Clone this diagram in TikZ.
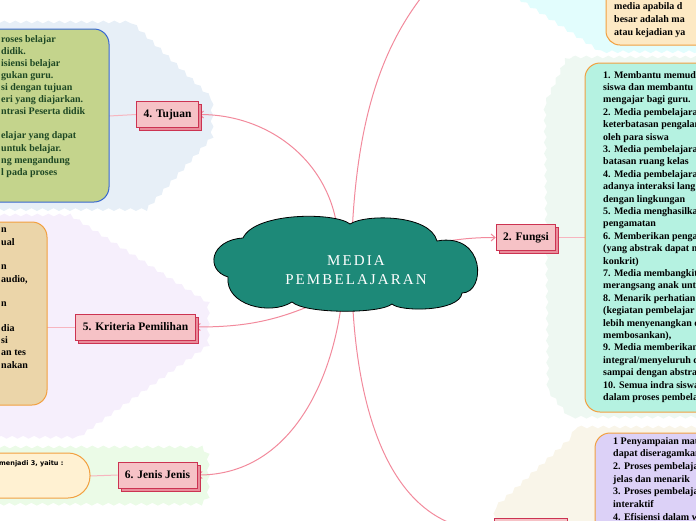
\documentclass[tikz,border=0pt]{standalone}
\usepackage{fontspec}
\setmainfont{Liberation Serif}
\newfontfamily\notefont{DejaVu Sans}
\newfontfamily\titlefont[LetterSpace=14]{Liberation Serif}
\usetikzlibrary{shadows,arrows.meta,decorations.pathmorphing,calc,positioning}

\definecolor{linkpink}{HTML}{F28A9C}
\definecolor{stubpink}{HTML}{F7B5BF}
\definecolor{topicfill}{HTML}{F6C2C6}
\definecolor{topicshade}{HTML}{E98C9A}
\definecolor{topicline}{HTML}{CC3352}
\definecolor{cloudteal}{HTML}{1D8978}
\definecolor{boxorange}{HTML}{F2A040}
\definecolor{goalgreen}{HTML}{C4D48C}
\definecolor{goalblue}{HTML}{3868D0}
\definecolor{goaltext}{HTML}{1E4824}
\definecolor{critfill}{HTML}{EBD5A9}
\definecolor{typefill}{HTML}{FFF1D2}
\definecolor{funcfill}{HTML}{B5F2E1}
\definecolor{defnfill}{HTML}{FDE9C4}
\definecolor{gainfill}{HTML}{DCD1F7}
\definecolor{bgblue}{HTML}{E7EFF7}
\definecolor{bglilac}{HTML}{F6EFFC}
\definecolor{bggreen}{HTML}{EBFBE7}
\definecolor{bgcyan}{HTML}{E2FDFD}
\definecolor{bgmint}{HTML}{EEF8F2}
\definecolor{bgcream}{HTML}{F9F5E9}

\pgfdeclarelayer{back}
\pgfdeclarelayer{links}
\pgfsetlayers{back,links,main}

\tikzset{
  topic/.style={draw=topicline, fill=topicfill, line width=0.8pt,
    font=\bfseries\fontsize{11.5}{13}\selectfont, inner xsep=7pt, minimum height=26pt,
    general shadow={fill=topicshade, draw=topicline, shadow xshift=3pt, shadow yshift=-3pt}},
  branch/.style={draw=linkpink, line width=1pt, -{Straight Barb[length=4pt,width=7pt]}},
  stub/.style={draw=stubpink, line width=1pt},
  blob/.style={decorate, decoration={snake, amplitude=1.4pt, segment length=11pt}},
  notebox/.style={draw=boxorange, line width=1pt, rounded corners=15pt},
  notetext/.style={anchor=north west, align=left, inner sep=0pt},
}

\begin{document}
\begin{tikzpicture}[x=1pt,y=1pt]
  \useasboundingbox (0,0) rectangle (696,-520);
  \clip (0,0) rectangle (696,-520);

  % Sfondi
  \begin{pgfonlayer}{back}
    \fill[bgblue, blob] (-10,-22) -- (128,-22) -- (208,-98) -- (208,-135) -- (140,-210) -- (-10,-210) -- cycle;
    \fill[bglilac, blob] (-10,-215) -- (65,-215) -- (207,-305) -- (207,-350) -- (80,-440) -- (-10,-440) -- cycle;
    \fill[bggreen, blob] (-10,-447) -- (200,-447) -- (207,-455) -- (207,-498) -- (200,-505) -- (-10,-505) -- cycle;
    \fill[bgcyan, blob] (505,10) -- (598,-50) -- (706,-50) -- (706,10) -- cycle;
    \fill[bgmint, blob] (572,-57) -- (706,-57) -- (706,-420) -- (570,-420) -- (550,-395) -- (547,-110) -- cycle;
    \fill[bgcream, blob] (578,-427) -- (706,-427) -- (706,-530) -- (493,-530) -- (493,-505) -- cycle;
  \end{pgfonlayer}

  % Riquadri di testo
  \draw[notebox, draw=goalblue, fill=goalgreen] (-20,-29) rectangle (109,-202);
  \node[notetext, text=goaltext, font=\bfseries\fontsize{10}{12.1}\selectfont] (goaltxt) at (1,-35)
    {roses belajar\\didik.\\isiensi belajar\\gukan guru.\\si dengan tujuan\\eri yang diajarkan.\\ntrasi Peserta didik\\~\\elajar yang dapat\\untuk belajar.\\ng mengandung\\l pada proses};

  \draw[notebox, fill=critfill] (-20,-222) rectangle (47,-405);
  \node[notetext, font=\bfseries\fontsize{10}{12.3}\selectfont] (crittxt) at (1,-228)
    {n\\ual\\~\\n\\audio,\\~\\n\\~\\dia\\si\\an tes\\nakan};

  \draw[notebox, rounded corners=22pt, fill=typefill] (-30,-453) rectangle (90,-498);
  \node[anchor=west, inner sep=0pt, font=\notefont\bfseries\fontsize{6.5}{8}\selectfont] (typetxt) at (-1,-464)
    {menjadi 3, yaitu :};

  \draw[notebox, fill=funcfill] (585,-63) rectangle (720,-412);
  \node[notetext, font=\bfseries\fontsize{10}{12.4}\selectfont] (functxt) at (603,-71)
    {1. Membantu memuda\\siswa dan membantu\\mengajar bagi guru.\\2. Media pembelajara\\keterbatasan pengalam\\oleh para siswa\\3. Media pembelajara\\batasan ruang kelas\\4. Media pembelajara\\adanya interaksi lang\\dengan lingkungan\\5. Media menghasilka\\pengamatan\\6. Memberikan penga\\(yang abstrak dapat m\\konkrit)\\7. Media membangkit\\merangsang anak unt\\8. Menarik perhatian\\(kegiatan pembelajar\\lebih menyenangkan d\\membosankan),\\9. Media memberikan\\integral/menyeluruh d\\sampai dengan abstra\\10. Semua indra siswa\\dalam proses pembela};

  \draw[notebox, rounded corners=14pt, fill=defnfill] (606,20) rectangle (720,-45);
  \node[notetext, font=\bfseries\fontsize{10}{13}\selectfont] (defntxt) at (614,-2)
    {media apabila d\\besar adalah ma\\atau kejadian ya};

  \draw[notebox, fill=gainfill] (595,-433) rectangle (720,-560);
  \node[notetext, font=\bfseries\fontsize{10}{12.7}\selectfont] (gaintxt) at (613,-437)
    {1 Penyampaian mat\\dapat diseragamkan\\2. Proses pembelaja\\jelas dan menarik\\3. Proses pembelaja\\interaktif\\4. Efisiensi dalam w};

  % Nuvola centrale
  \draw[fill=cloudteal, draw=black, line width=0.8pt]
    (228,-277) .. controls (205,-270) and (210,-240) .. (243,-238)
    .. controls (255,-212) and (335,-212) .. (350,-224)
    .. controls (365,-214) and (430,-214) .. (437,-241)
    .. controls (486,-232) and (486,-293) .. (462,-293)
    .. controls (460,-312) and (400,-312) .. (392,-304)
    .. controls (380,-314) and (305,-314) .. (292,-302)
    .. controls (270,-316) and (225,-305) .. (228,-277) -- cycle;
  \node[text=white, align=center, font=\titlefont\fontsize{15}{19}\selectfont] (media) at (356,-270)
    {MEDIA\\PEMBELAJARAN};

  % Rami
  \node[topic] (tujuan) at (167.5,-114.5) {4. Tujuan};
  \node[topic] (kriteria) at (135.5,-327) {5. Kriteria Pemilihan};
  \node[topic] (jenis) at (157.5,-475) {6. Jenis Jenis};
  \node[topic] (fungsi) at (526,-237.5) {2. Fungsi};
  \node[topic, minimum width=73pt] (manfaat) at (530.5,-531) {};
  \coordinate (pengertian) at (440,25);

  \coordinate (goaledge) at (109,-116);
  \coordinate (critedge) at (47,-327);
  \coordinate (typeedge) at (90,-476);
  \coordinate (funcedge) at (585,-237.5);

  % Collegamenti
  \begin{pgfonlayer}{links}
    \draw[branch] ($(media.center)+(-18,35)$) to[out=95, in=0] (tujuan.east);
    \draw[branch] ($(media.center)+(-4,35)$) .. controls (358,-100) and (390,-30) .. (pengertian);
    \draw[branch] ($(media.center)+(-26,-27)$) to[out=205, in=0] (kriteria.east);
    \draw[branch] ($(media.center)+(-13,-19)$) to[out=-95, in=0] (jenis.east);
    \draw[branch] ($(media.center)+(-4,-19)$) .. controls (356,-413) and (391,-531) .. (manfaat.west);
    \draw[branch] ($(media.center)+(74,26)$) to[out=10, in=180] (fungsi.west);

    \draw[stub] (tujuan.west) -- (goaledge);
    \draw[stub] (kriteria.west) -- (critedge);
    \draw[stub] (jenis.west) -- (typeedge);
    \draw[stub] (fungsi.east) -- (funcedge);
  \end{pgfonlayer}
\end{tikzpicture}
\end{document}
